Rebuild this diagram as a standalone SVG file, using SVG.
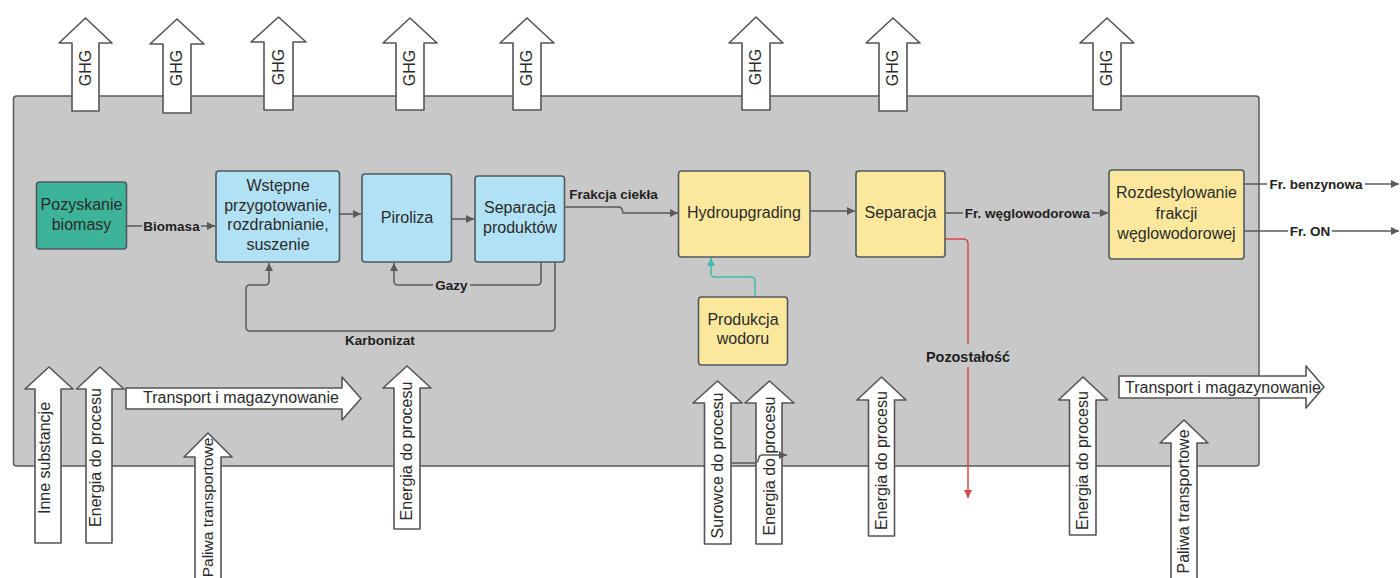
<svg xmlns="http://www.w3.org/2000/svg" width="1400" height="578" viewBox="0 0 1400 578">
<defs>
<style>
.frame{fill:#c8c8c8;stroke:#5a5a5a;stroke-width:1.5}
.box{stroke:#4f5a60;stroke-width:1.6}
.green{fill:#3db39a}
.blue{fill:#b1e1f4}
.yellow{fill:#fce89c}
.bt{font-family:"Liberation Sans",Arial,sans-serif;font-size:16px;fill:#2b2b2b;text-anchor:middle}
.lbl{font-family:"Liberation Sans",Arial,sans-serif;font-size:13.5px;font-weight:bold;fill:#222;text-anchor:middle}
.blk{fill:#fff;stroke:#555;stroke-width:1.6;stroke-linejoin:round}
.at{font-family:"Liberation Sans",Arial,sans-serif;font-size:16px;fill:#2b2b2b;text-anchor:middle}
.con{fill:none;stroke:#5a5a5a;stroke-width:1.5}
.teal{fill:none;stroke:#3fbcae;stroke-width:1.5}
.red{fill:none;stroke:#d8474a;stroke-width:1.5}
.bgg{fill:#c8c8c8}
.bgw{fill:#fff}
</style>
<marker id="ah" viewBox="0 0 10 10" refX="10" refY="5" markerWidth="9" markerHeight="8" markerUnits="userSpaceOnUse" orient="auto"><path d="M0,0 L10,5 L0,10 Z" fill="#5a5a5a"/></marker>
<marker id="aht" viewBox="0 0 10 10" refX="10" refY="5" markerWidth="9" markerHeight="8" markerUnits="userSpaceOnUse" orient="auto"><path d="M0,0 L10,5 L0,10 Z" fill="#3fbcae"/></marker>
<marker id="ahr" viewBox="0 0 10 10" refX="10" refY="5" markerWidth="9" markerHeight="8" markerUnits="userSpaceOnUse" orient="auto"><path d="M0,0 L10,5 L0,10 Z" fill="#d8474a"/></marker>
</defs>
<rect width="1400" height="578" fill="#fff"/>
<g id="frame"><rect class="frame" x="13.5" y="96" width="1245.5" height="370" rx="3"/></g>

<g id="connectors">
<path class="con" d="M126,226 H215" marker-end="url(#ah)"/>
<path class="con" d="M340,214 H361" marker-end="url(#ah)"/>
<path class="con" d="M452,219 H474" marker-end="url(#ah)"/>
<path class="con" d="M565,207 H619 Q621,207 622,209 L623,213 H678" marker-end="url(#ah)"/>
<path class="con" d="M810,211 H855" marker-end="url(#ah)"/>
<path class="con" d="M945,213 H1108" marker-end="url(#ah)"/>
<path class="con" d="M1244,184 H1399" marker-end="url(#ah)"/>
<path class="con" d="M1244,231 H1399" marker-end="url(#ah)"/>
<path class="con" d="M541,262 V281 Q541,285 537,285 H398 Q394,285 394,281 V263" marker-end="url(#ah)"/>
<path class="con" d="M555,262 V327 Q555,331 551,331 H250 Q246,331 246,327 V289 Q246,285 250,285 H265 Q269,285 269,281 V263" marker-end="url(#ah)"/>
<path class="teal" d="M755,297 V281 Q755,277 751,277 H715 Q711,277 711,273 V258" marker-end="url(#aht)"/>
<path class="red" d="M945,239 H963 Q968,239 968,244 V498" marker-end="url(#ahr)"/>
<rect class="bgg" x="142" y="219" width="59" height="15"/>
<text class="lbl" x="171.5" y="230.5">Biomasa</text>
<text class="lbl" x="613.5" y="199">Frakcja ciekła</text>
<rect class="bgg" x="963" y="206" width="129" height="15"/>
<text class="lbl" x="1027.5" y="218">Fr. węglowodorowa</text>
<rect class="bgw" x="1267" y="177" width="98" height="15"/>
<text class="lbl" x="1316" y="189">Fr. benzynowa</text>
<rect class="bgw" x="1288" y="224" width="44" height="15"/>
<text class="lbl" x="1310" y="236">Fr. ON</text>
<rect class="bgg" x="433" y="278" width="37" height="15"/>
<text class="lbl" x="451.5" y="290">Gazy</text>
<text class="lbl" x="380" y="345">Karbonizat</text>
<rect class="bgg" x="922" y="344" width="92" height="23"/>
<text class="lbl" x="968" y="362" style="font-size:14.4px">Pozostałość</text>
</g>

<g id="n-pozyskanie"><rect class="box green" x="36.5" y="182" width="90" height="67" rx="3"/><text class="bt" x="81.5" y="210">Pozyskanie</text><text class="bt" x="81.5" y="230">biomasy</text></g>
<g id="n-wstepne"><rect class="box blue" x="216" y="171" width="123.5" height="91" rx="3"/><text class="bt" x="278" y="191">Wstępne</text><text class="bt" x="278" y="210.5">przygotowanie,</text><text class="bt" x="278" y="230">rozdrabnianie,</text><text class="bt" x="278" y="249.5">suszenie</text></g>
<g id="n-piroliza"><rect class="box blue" x="362" y="174" width="89.5" height="88" rx="3"/><text class="bt" x="407" y="223">Piroliza</text></g>
<g id="n-separacja-prod"><rect class="box blue" x="475" y="176" width="89.5" height="86" rx="3"/><text class="bt" x="520" y="213">Separacja</text><text class="bt" x="520" y="233">produktów</text></g>
<g id="n-hydro"><rect class="box yellow" x="678.5" y="171" width="131.5" height="86" rx="3"/><text class="bt" x="744" y="218">Hydroupgrading</text></g>
<g id="n-separacja"><rect class="box yellow" x="856" y="171" width="89" height="86" rx="3"/><text class="bt" x="900.5" y="218">Separacja</text></g>
<g id="n-rozdest"><rect class="box yellow" x="1109" y="170" width="135" height="89" rx="3"/><text class="bt" x="1176.5" y="198">Rozdestylowanie</text><text class="bt" x="1176.5" y="218.5">frakcji</text><text class="bt" x="1176.5" y="239">węglowodorowej</text></g>
<g id="n-wodor"><rect class="box yellow" x="698.5" y="297" width="89" height="68" rx="3"/><text class="bt" x="743" y="325">Produkcja</text><text class="bt" x="743" y="344">wodoru</text></g>

<g id="ghg-1"><path class="blk" d="M72,111 V43 H59 L85.5,18 L112,43 H99 V111 Z"/><text class="at" transform="translate(90.5,68) rotate(-90)">GHG</text></g>
<g id="ghg-2"><path class="blk" d="M163,113 V44 H150 L177,19 L204,44 H191 V113 Z"/><text class="at" transform="translate(182,68) rotate(-90)">GHG</text></g>
<g id="ghg-3"><path class="blk" d="M264,110 V42 H251 L278.5,17 L306,42 H293 V110 Z"/><text class="at" transform="translate(283.5,67) rotate(-90)">GHG</text></g>
<g id="ghg-4"><path class="blk" d="M396,110 V43 H383 L410,18 L437,43 H424 V110 Z"/><text class="at" transform="translate(415,68) rotate(-90)">GHG</text></g>
<g id="ghg-5"><path class="blk" d="M513,110 V43 H500 L527,18 L554,43 H541 V110 Z"/><text class="at" transform="translate(532,68) rotate(-90)">GHG</text></g>
<g id="ghg-6"><path class="blk" d="M742,110 V43 H729 L756,17 L783,43 H770 V110 Z"/><text class="at" transform="translate(761,67) rotate(-90)">GHG</text></g>
<g id="ghg-7"><path class="blk" d="M879,111 V43 H866 L893,18 L920,43 H907 V111 Z"/><text class="at" transform="translate(898,68) rotate(-90)">GHG</text></g>
<g id="ghg-8"><path class="blk" d="M1093,110 V43 H1080 L1107,18 L1134,43 H1121 V110 Z"/><text class="at" transform="translate(1112,68) rotate(-90)">GHG</text></g>

<g id="in-inne"><path class="blk" d="M35,543 V389 H25 L49,367 L73,389 H61 V543 Z"/><text class="at" transform="translate(50,458) rotate(-90)">Inne substancje</text></g>
<g id="in-energia-1"><path class="blk" d="M86,543 V389 H76.5 L100,367 L124,389 H112 V543 Z"/><text class="at" transform="translate(101,457.5) rotate(-90)">Energia do procesu</text></g>
<g id="transport-1"><path class="blk" d="M126,388 H342 V377 L361,398.5 L342,420 V409 H126 Z"/><text class="at" x="241" y="403">Transport i magazynowanie</text></g>
<g id="in-paliwa-1"><path class="blk" d="M195,595 V457 H184 L208,433 L232,457 H221 V595 Z"/><text class="at" transform="translate(213,507.5) rotate(-90)" style="font-size:15.5px">Paliwa transportowe</text></g>
<g id="in-energia-2"><path class="blk" d="M394,529 V388 H383 L407,366 L431,388 H420 V529 Z"/><text class="at" transform="translate(412,451) rotate(-90)">Energia do procesu</text></g>
<g id="in-surowce"><path class="blk" d="M704.5,544 V403 H693 L717.5,381 L742,403 H731 V544 Z"/><text class="at" transform="translate(722.5,465.5) rotate(-90)">Surowce do procesu</text></g>
<g id="in-energia-3"><path class="blk" d="M756,544 V403 H745 L769.5,381 L794,403 H782 V544 Z"/><text class="at" transform="translate(774.5,466) rotate(-90)">Energia do procesu</text></g>
<path class="con" d="M731,463 H755 Q757,463 758,461 L759,457 Q760,455 762,455 H787" marker-end="url(#ah)"/>
<g id="in-energia-4"><path class="blk" d="M868.5,536 V400 H857 L881.5,377 L906,400 H894.5 V536 Z"/><text class="at" transform="translate(886.5,460.5) rotate(-90)">Energia do procesu</text></g>
<g id="in-energia-5"><path class="blk" d="M1069.5,535 V400 H1058.5 L1083,377 L1107.5,400 H1096 V535 Z"/><text class="at" transform="translate(1088,460.5) rotate(-90)">Energia do procesu</text></g>
<g id="transport-2"><path class="blk" d="M1119,376 H1306 V366 L1324,387 L1306,408 V398 H1119 Z"/><text class="at" x="1223" y="392.5">Transport i magazynowanie</text></g>
<g id="in-paliwa-2"><path class="blk" d="M1171,595 V443 H1160 L1184,420 L1208,443 H1197 V595 Z"/><text class="at" transform="translate(1189,501.5) rotate(-90)">Paliwa transportowe</text></g>
</svg>
